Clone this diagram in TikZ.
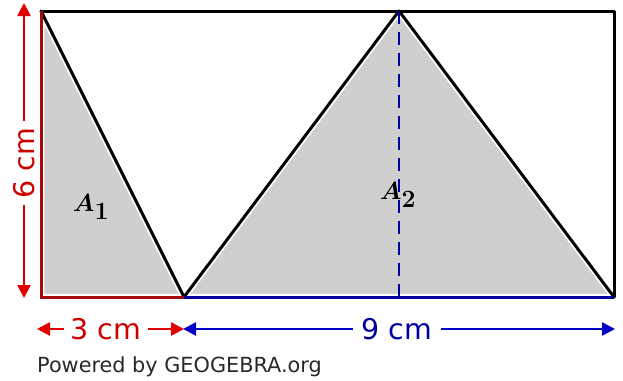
\documentclass[tikz,border=0pt]{standalone}
\usepackage{fontspec}
\setmainfont{DejaVu Sans}
\usetikzlibrary{arrows.meta}
\definecolor{fillgray}{RGB}{207,207,207}
\definecolor{dred}{RGB}{165,10,10}
\definecolor{bred}{RGB}{225,0,0}
\definecolor{tred}{RGB}{205,0,0}
\definecolor{dblue}{RGB}{0,0,160}
\definecolor{bblue}{RGB}{0,0,200}
\definecolor{powgray}{RGB}{40,40,40}
\tikzset{
  edge/.style={line width=3pt, black, line cap=round, line join=round},
  halo/.style={line width=6.5pt, white, line cap=round, line join=round},
  dimred/.style={line width=2.6pt, bred, -{Triangle[length=13pt,width=13pt]}},
  dimblue/.style={line width=2.6pt, bblue, -{Triangle[length=13pt,width=13pt]}},
  dimtext/.style={font=\fontsize{28.5}{32}\selectfont, inner sep=6pt},
  arealabel/.style={font=\fontsize{33}{36}\selectfont\boldmath}
}
\begin{document}
\begin{tikzpicture}[x=1pt,y=-1pt]
\useasboundingbox (0,0) rectangle (623,380);
% corner points
\coordinate (TL) at (41,11);
\coordinate (BL) at (41,297);
\coordinate (B) at (184,297);
\coordinate (T) at (399,11);
\coordinate (TR) at (614,11);
\coordinate (BR) at (614,297);
\coordinate (F) at (399,297);
% fills
\fill[fillgray] (TL) -- (BL) -- (B) -- cycle;
\fill[fillgray] (B) -- (T) -- (BR) -- cycle;
% white halos
\draw[halo] (TL) -- (BL) -- (B) -- cycle;
\draw[halo] (B) -- (T) -- (BR) -- cycle;
% edges
\draw[edge] (TL) -- (TR) -- (BR);
\draw[edge] (TL) -- (B) -- (T) -- (BR);
\draw[line width=3pt, dred] (TL) -- (BL) -- (B);
\draw[line width=3pt, dblue] (B) -- (BR);
% height dashed
\draw[line width=2.6pt, dblue, dash pattern=on 13pt off 8pt] (T) -- (F);
% area labels
\node[arealabel] (lblA) at (91,207) {$A_1$};
\node[arealabel] (lblB) at (398,195) {$A_2$};
% vertical dimension
\coordinate (VT) at (24,3);
\coordinate (VB) at (24,298);
\node[dimtext, text=tred, rotate=90] (t6) at (24,163) {6 cm};
\draw[dimred] (t6.east) -- (VT);
\draw[dimred] (t6.west) -- (VB);
% bottom dimensions
\coordinate (L3) at (37,329);
\coordinate (M3) at (184,329);
\coordinate (M9) at (183,329);
\coordinate (R9) at (615,329);
\node[dimtext, text=tred] (t3) at (106,329) {3 cm};
\draw[dimred] (t3.west) -- (L3);
\draw[dimred] (t3.east) -- (M3);
\node[dimtext, text=dblue, inner sep=8pt] (t9) at (397,329) {9 cm};
\draw[dimblue] (t9.west) -- (M9);
\draw[dimblue] (t9.east) -- (R9);
% footer
\node[anchor=west, inner sep=0pt, text=powgray, font=\fontsize{20.8}{23}\selectfont] (pow) at (37,367) {Powered by GEOGEBRA.org};
\end{tikzpicture}
\end{document}
